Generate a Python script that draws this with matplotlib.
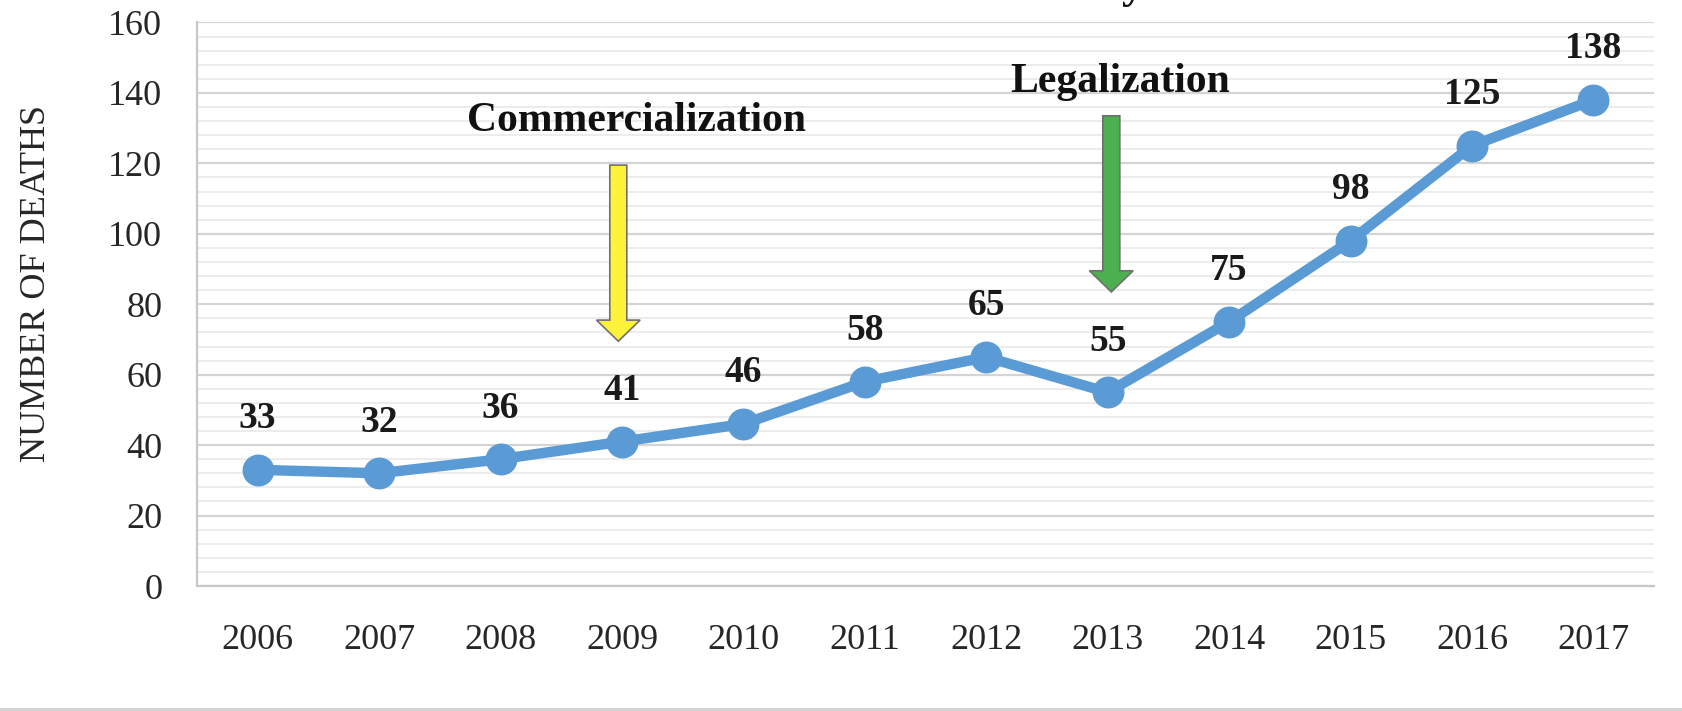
import matplotlib
matplotlib.use("Agg")
import matplotlib.pyplot as plt
from matplotlib.patches import FancyArrow
from matplotlib.lines import Line2D
import numpy as np

years = ["2006", "2007", "2008", "2009", "2010", "2011", "2012", "2013", "2014", "2015", "2016", "2017"]
deaths = [33, 32, 36, 41, 46, 58, 65, 55, 75, 98, 125, 138]
events = ["Commercialization", "Legalization"]
event_years = ["2009", "2013"]

plt.rcParams['font.family'] = ['Liberation Serif', 'DejaVu Serif']

fig = plt.figure(figsize=(16.82, 7.11), dpi=100)
ax = fig.add_axes([0.1171, 0.1758, 0.8663, 0.7926])

x = np.arange(len(years))
ax.plot(x, deaths, color='#5B9BD5', lw=7.5, marker='o', ms=22, zorder=5)
for xi, v in zip(x, deaths):
    ax.text(xi, v + 14.5, str(v), ha='center', va='center', fontsize=27,
            fontweight='bold', color='#1a1a1a', zorder=6)

ax.set_xlim(-0.5, len(years) - 0.5)
ax.set_ylim(0, 160)
ax.set_xticks(x)
ax.set_xticklabels(years, fontsize=26, color='#262626')
ax.set_yticks(np.arange(0, 161, 20))
ax.set_yticks(np.arange(0, 161, 4), minor=True)
ax.tick_params(axis='y', which='major', labelsize=26, length=0, pad=25, colors='#262626')
ax.tick_params(axis='y', which='minor', length=0)
ax.tick_params(axis='x', length=0, pad=27)
ax.grid(axis='y', which='major', color='#d4d4d4', lw=1.6, zorder=0)
ax.grid(axis='y', which='minor', color='#ececec', lw=1.4, zorder=0)
for s in ['top', 'right']:
    ax.spines[s].set_visible(False)
for s in ['left', 'bottom']:
    ax.spines[s].set_color('#c8c8c8')
    ax.spines[s].set_linewidth(1.6)
ax.set_ylabel("NUMBER OF DEATHS", fontsize=26, color='#262626')
ax.yaxis.set_label_coords(-0.099, 0.536)

# annotation arrows
arrow_specs = [
    (years.index(event_years[0]), 119.5, 69.5, '#FFF23A', 3.12, 132, events[0]),
    (years.index(event_years[1]), 133.5, 83.5, '#4CAF50', 7.1, 143, events[1]),
]
for xi, ytop, ytip, col, tx, ty, label in arrow_specs:
    xi = xi - 0.03 if col == '#FFF23A' else xi + 0.03
    arr = FancyArrow(xi, ytop, 0, ytip - ytop, width=0.14, head_width=0.36,
                     head_length=6.0, length_includes_head=True,
                     facecolor=col, edgecolor='#707070', lw=1.2, zorder=4)
    ax.add_patch(arr)
    ax.text(tx, ty, label, ha='center', va='center', fontsize=30,
            fontweight='bold', color='#111111', zorder=6)

# cut-off title glyph at top
fig.text(1133 / 1682, 1 + 1.5 / 711, "y", ha='center', va='baseline',
         fontsize=32, fontweight='bold', color='#111111')

# page border line at bottom
fig.add_artist(Line2D([0, 1], [2.5 / 711, 2.5 / 711], transform=fig.transFigure,
                      color='#d0d0d0', lw=2))

fig.savefig("out.png", dpi=100)
